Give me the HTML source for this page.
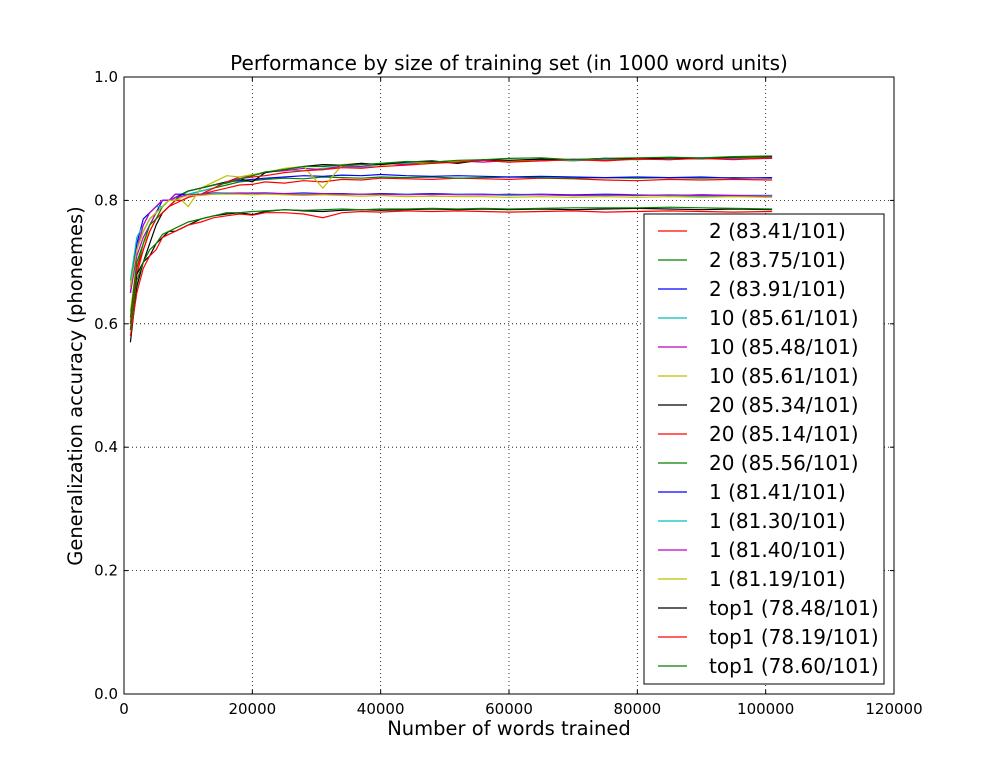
<!DOCTYPE html>
<html><head><meta charset="utf-8"><style>
body{margin:0;background:#fff;}
svg{display:block;font-family:"DejaVu Sans","Liberation Sans",sans-serif;}
</style></head><body>
<svg id="chart" width="994" height="772" xmlns="http://www.w3.org/2000/svg">
<rect width="994" height="772" fill="#fff"/>
<text x="509" y="70" font-size="20" text-anchor="middle">Performance by size of training set (in 1000 word units)</text>
<g id="grid"></g>
<g id="series"></g>
<rect x="124" y="77" width="770" height="617" fill="none" stroke="#000" stroke-width="1"/>
<g id="ticks"></g>
<text x="509" y="735" font-size="19.5" text-anchor="middle">Number of words trained</text>
<text transform="translate(82,386) rotate(-90)" font-size="19.5" text-anchor="middle">Generalization accuracy (phonemes)</text>
<g id="legend">
<rect x="644" y="214" width="240" height="470" fill="#fff" stroke="#000"/>
</g>
</svg>
<script>
const xs=[1000,2000,3000,4000,5000,6000,7000,8000,9000,10000,12000,14000,16000,18000,20000,22000,25000,28000,31000,34000,37000,40000,44000,48000,52000,56000,60000,65000,70000,75000,80000,85000,90000,95000,101000];
const labels=["2 (83.41/101)","2 (83.75/101)","2 (83.91/101)","10 (85.61/101)","10 (85.48/101)","10 (85.61/101)","20 (85.34/101)","20 (85.14/101)","20 (85.56/101)","1 (81.41/101)","1 (81.30/101)","1 (81.40/101)","1 (81.19/101)","top1 (78.48/101)","top1 (78.19/101)","top1 (78.60/101)"];
const colors=["#ff0000","#008000","#0000ff","#00bfbf","#bf00bf","#bfbf00","#000000","#ff0000","#008000","#0000ff","#00bfbf","#bf00bf","#bfbf00","#000000","#ff0000","#008000"];
const s2a=[0.62,0.68,0.72,0.75,0.77,0.78,0.79,0.795,0.80,0.805,0.81,0.815,0.82,0.825,0.826,0.83,0.828,0.832,0.830,0.834,0.833,0.836,0.835,0.834,0.836,0.835,0.834,0.836,0.835,0.833,0.832,0.834,0.833,0.834,0.833];
const s2b=[0.60,0.69,0.73,0.76,0.78,0.79,0.80,0.80,0.81,0.81,0.815,0.82,0.825,0.83,0.832,0.834,0.836,0.835,0.838,0.837,0.836,0.838,0.837,0.838,0.836,0.837,0.838,0.837,0.836,0.837,0.836,0.837,0.836,0.837,0.836];
const s2c=[0.65,0.72,0.75,0.77,0.78,0.80,0.80,0.81,0.81,0.815,0.82,0.825,0.83,0.832,0.834,0.836,0.838,0.840,0.839,0.841,0.840,0.842,0.840,0.839,0.840,0.839,0.838,0.839,0.838,0.837,0.838,0.837,0.838,0.836,0.837];
const s10a=[0.67,0.73,0.75,0.77,0.78,0.79,0.80,0.80,0.81,0.81,0.815,0.82,0.83,0.835,0.84,0.845,0.85,0.848,0.852,0.855,0.853,0.858,0.860,0.862,0.861,0.865,0.862,0.866,0.864,0.867,0.866,0.868,0.867,0.869,0.868];
const s10b=[0.65,0.71,0.74,0.76,0.78,0.79,0.80,0.81,0.81,0.815,0.82,0.825,0.83,0.838,0.84,0.846,0.848,0.852,0.85,0.856,0.855,0.86,0.858,0.862,0.864,0.862,0.865,0.864,0.867,0.865,0.868,0.866,0.869,0.867,0.868];
const s10c=[0.62,0.70,0.73,0.75,0.77,0.78,0.79,0.80,0.80,0.79,0.82,0.83,0.84,0.838,0.842,0.845,0.852,0.855,0.82,0.858,0.86,0.857,0.862,0.86,0.864,0.866,0.863,0.867,0.865,0.868,0.866,0.87,0.868,0.87,0.869];
const s20a=[0.59,0.68,0.70,0.73,0.76,0.78,0.79,0.80,0.81,0.815,0.82,0.825,0.83,0.835,0.83,0.845,0.85,0.855,0.858,0.857,0.86,0.858,0.862,0.864,0.86,0.866,0.865,0.867,0.866,0.868,0.867,0.869,0.868,0.87,0.871];
const s20b=[0.60,0.69,0.72,0.75,0.77,0.78,0.79,0.80,0.80,0.805,0.81,0.82,0.83,0.835,0.838,0.84,0.845,0.848,0.85,0.853,0.852,0.855,0.857,0.86,0.862,0.865,0.862,0.864,0.866,0.864,0.867,0.866,0.868,0.866,0.869];
const s20c=[0.61,0.70,0.73,0.76,0.77,0.79,0.80,0.80,0.81,0.815,0.82,0.825,0.828,0.834,0.84,0.846,0.85,0.855,0.855,0.857,0.858,0.86,0.863,0.862,0.865,0.866,0.868,0.869,0.866,0.868,0.869,0.87,0.869,0.871,0.872];
const s1a=[0.66,0.73,0.77,0.78,0.79,0.80,0.80,0.805,0.81,0.808,0.81,0.812,0.812,0.811,0.812,0.812,0.811,0.812,0.811,0.811,0.81,0.811,0.81,0.811,0.81,0.81,0.809,0.81,0.809,0.81,0.809,0.808,0.809,0.808,0.808];
const s1b=[0.67,0.74,0.76,0.78,0.79,0.79,0.80,0.805,0.806,0.81,0.81,0.811,0.812,0.812,0.811,0.811,0.81,0.811,0.81,0.81,0.81,0.809,0.81,0.809,0.81,0.809,0.808,0.809,0.808,0.808,0.809,0.808,0.807,0.808,0.808];
const s1c=[0.65,0.72,0.76,0.78,0.79,0.80,0.80,0.804,0.807,0.809,0.81,0.81,0.811,0.812,0.812,0.811,0.811,0.81,0.811,0.81,0.81,0.81,0.809,0.81,0.809,0.809,0.81,0.809,0.808,0.809,0.808,0.809,0.808,0.808,0.807];
const s1d=[0.66,0.72,0.75,0.77,0.78,0.79,0.80,0.80,0.805,0.808,0.808,0.81,0.81,0.81,0.809,0.81,0.809,0.808,0.809,0.808,0.807,0.808,0.806,0.807,0.806,0.806,0.805,0.806,0.805,0.806,0.805,0.806,0.805,0.806,0.805];
const st1a=[0.57,0.66,0.70,0.71,0.73,0.74,0.75,0.75,0.755,0.76,0.77,0.775,0.778,0.78,0.777,0.782,0.785,0.783,0.782,0.784,0.785,0.784,0.785,0.786,0.785,0.786,0.785,0.786,0.785,0.786,0.787,0.786,0.785,0.786,0.785];
const st1b=[0.58,0.65,0.69,0.71,0.72,0.74,0.745,0.75,0.755,0.76,0.765,0.772,0.775,0.778,0.776,0.78,0.78,0.778,0.772,0.78,0.782,0.781,0.783,0.782,0.783,0.782,0.781,0.782,0.783,0.781,0.782,0.783,0.782,0.781,0.782];
const st1c=[0.59,0.67,0.70,0.72,0.73,0.745,0.75,0.755,0.76,0.765,0.77,0.775,0.78,0.78,0.782,0.783,0.785,0.784,0.785,0.786,0.785,0.786,0.786,0.787,0.786,0.787,0.786,0.787,0.788,0.788,0.788,0.789,0.788,0.787,0.786];
const xTicks=[0,20000,40000,60000,80000,100000,120000];
const yTicks=[0.0,0.2,0.4,0.6,0.8,1.0];
const yTickLabels=["0.0","0.2","0.4","0.6","0.8","1.0"];
const allSeries=[s2a,s2b,s2c,s10a,s10b,s10c,s20a,s20b,s20c,s1a,s1b,s1c,s1d,st1a,st1b,st1c];

const NS="http://www.w3.org/2000/svg";
const L=124,R=894,T=77,B=694;
const xMap=v=>L+(v-0)/120000*(R-L);
const yMap=v=>B-(v-0)/1*(B-T);
function mk(tag,attrs,parent){const e=document.createElementNS(NS,tag);for(const k in attrs)e.setAttribute(k,attrs[k]);parent.appendChild(e);return e;}
const grid=document.getElementById('grid'),ticks=document.getElementById('ticks'),ser=document.getElementById('series'),leg=document.getElementById('legend');
xTicks.forEach((t,i)=>{const x=xMap(t);
 if(t>0&&t<120000){const g=mk('line',{x1:x,x2:x,y1:T,y2:B,stroke:'#000','stroke-dasharray':'1,3','stroke-width':0.8},grid);
 
 }
 mk('line',{x1:x,x2:x,y1:B,y2:B-4,stroke:'#000'},ticks);mk('line',{x1:x,x2:x,y1:T,y2:T+4,stroke:'#000'},ticks);
 const tx=mk('text',{x:x,y:B+20,'font-size':15,'text-anchor':'middle'},ticks);tx.textContent=String(t);
 
 
});
yTicks.forEach((t,i)=>{const y=yMap(t);
 if(t>0&&t<1){const g=mk('line',{x1:L,x2:R,y1:y,y2:y,stroke:'#000','stroke-dasharray':'1,3','stroke-width':0.8},grid);
 
 }
 mk('line',{x1:L,x2:L+4,y1:y,y2:y,stroke:'#000'},ticks);mk('line',{x1:R,x2:R-4,y1:y,y2:y,stroke:'#000'},ticks);
 const tx=mk('text',{x:L-6,y:y+5,'font-size':15,'text-anchor':'end'},ticks);tx.textContent=yTickLabels[i];
 
 
});
allSeries.forEach((s,i)=>{
 const pts=s.map((v,j)=>xMap(xs[j]).toFixed(1)+','+yMap(v).toFixed(1)).join(' ');
 const p=mk('polyline',{points:pts,fill:'none',stroke:colors[i],'stroke-width':1.2},ser);
 
 
 const y=231+i*29;
 const ll=mk('line',{x1:658,x2:687,y1:y,y2:y,stroke:colors[i],'stroke-width':1.2},leg);
 
 
 const lt=mk('text',{x:709,y:y+7,'font-size':20},leg);lt.textContent=labels[i];
 
 
});
</script>
</body></html>
